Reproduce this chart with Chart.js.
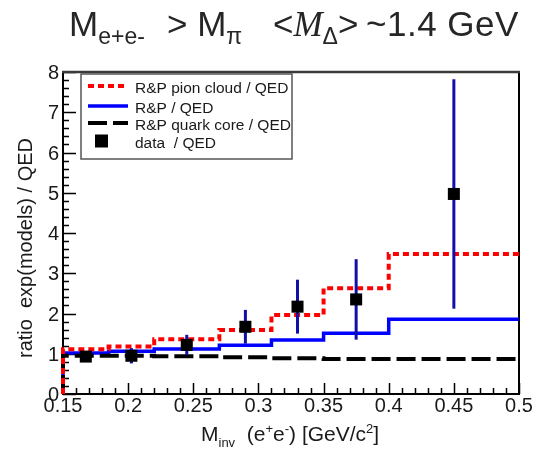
<!DOCTYPE html>
<html>
<head>
<meta charset="utf-8">
<script src="https://cdn.jsdelivr.net/npm/chart.js@4.4.1/dist/chart.umd.min.js"></script>
<style>
  body { margin: 0; background: #fff; }
  #wrap { position: relative; width: 536px; height: 449px; }
  .ttl {
    position: absolute; top: 6px;
    font-family: "Liberation Sans", Arial, sans-serif; font-size: 35px;
    color: #262626; white-space: pre; line-height: 35px;
  }
  .ttl sub { font-size: 23px; vertical-align: -8px; line-height: 0; }
  .ttl i { font-family: "Liberation Serif", "DejaVu Serif", serif; }
  canvas { position: absolute; left: 0; top: 0; }
</style>
</head>
<body>
<div id="wrap">
  <canvas id="ratioChart" width="536" height="449"></canvas>
  <div class="ttl" style="left:69px">M<sub>e+e-</sub></div>
  <div class="ttl" style="left:167px">&gt; M<sub>π</sub></div>
  <div class="ttl" style="left:273px">&lt;<i>M</i><sub>Δ</sub>&gt;</div>
  <div class="ttl" style="left:366px; letter-spacing: 0.5px">~1.4 GeV</div>
</div>
<script>
// histogram bin edges in M_inv [GeV/c^2]
var binEdges = [0.15, 0.185, 0.22, 0.27, 0.31, 0.35, 0.40, 0.50];

// model ratios per bin
var pionCloud = [1.11, 1.18, 1.36, 1.59, 1.96, 2.63, 3.48];
var rpTotal   = [1.02, 1.06, 1.12, 1.21, 1.34, 1.51, 1.86];
var quarkCore = [0.95, 0.95, 0.94, 0.91, 0.89, 0.87, 0.87];

// measured points
var dataMass  = [0.1675, 0.2025, 0.245, 0.29, 0.33, 0.375, 0.45];
var dataRatio = [0.93, 0.95, 1.22, 1.67, 2.17, 2.35, 4.97];
var dataError = [0.13, 0.19, 0.25, 0.42, 0.67, 1.0, 2.85];

var xTickLabels = ['0.15', '0.2', '0.25', '0.3', '0.35', '0.4', '0.45', '0.5'];
var yTickLabels = ['0', '1', '2', '3', '4', '5', '6', '7', '8'];

var FONT = '"Liberation Sans", Arial, sans-serif';

// turn per-bin values into points for a stepped line
function histPoints(vals) {
    var pts = [{ x: binEdges[0], y: 0 }];
    for (var i = 0; i < vals.length; i++) {
        pts.push({ x: binEdges[i], y: vals[i] });
    }
    pts.push({ x: binEdges[binEdges.length - 1], y: vals[vals.length - 1] });
    return pts;
}

var dataPoints = dataMass.map(function (m, i) { return { x: m, y: dataRatio[i] }; });

var legendItems = [
    { label: 'R&P pion cloud / QED', color: '#ff0000', dash: [6, 4], width: 4, y: 86 },
    { label: 'R&P / QED', color: '#0000ff', dash: [], width: 3.5, y: 106 },
    { label: 'R&P quark core / QED', color: '#000000', dash: [19, 6], width: 4, y: 123 },
    { label: 'data  / QED', marker: true, y: 141 }
];

// error bars go under the markers
var errorBars = {
    id: 'errorBars',
    beforeDatasetDraw: function (chart, args) {
        if (args.index !== 0) return;
        var ctx = chart.ctx, xs = chart.scales.x, ys = chart.scales.y;
        ctx.save();
        ctx.strokeStyle = '#1010a8';
        ctx.lineWidth = 3;
        for (var i = 0; i < dataMass.length; i++) {
            var px = xs.getPixelForValue(dataMass[i]);
            ctx.beginPath();
            ctx.moveTo(px, ys.getPixelForValue(dataRatio[i] - dataError[i]));
            ctx.lineTo(px, ys.getPixelForValue(dataRatio[i] + dataError[i]));
            ctx.stroke();
        }
        ctx.restore();
    }
};

// ROOT-like frame with inward ticks
var frameAxes = {
    id: 'frameAxes',
    beforeDatasetsDraw: function (chart) {
        var ctx = chart.ctx, a = chart.chartArea, xs = chart.scales.x, ys = chart.scales.y;
        ctx.save();
        ctx.strokeStyle = '#000';
        ctx.lineWidth = 1.5;
        ctx.beginPath();
        for (var i = 15; i <= 50; i++) {
            var px = Math.round(xs.getPixelForValue(i / 100)) + 0.5;
            var len = (i % 5 === 0) ? 11 : 6;
            ctx.moveTo(px, a.bottom);
            ctx.lineTo(px, a.bottom - len);
        }
        for (var j = 0; j <= 40; j++) {
            var py = Math.round(ys.getPixelForValue(j / 5)) + 0.5;
            var ln = (j % 5 === 0) ? 13 : 6;
            ctx.moveTo(a.left, py);
            ctx.lineTo(a.left + ln, py);
        }
        ctx.stroke();

        ctx.lineWidth = 2;
        ctx.strokeStyle = '#000';
        ctx.beginPath();
        ctx.moveTo(a.left, a.top);
        ctx.lineTo(a.left, a.bottom);
        ctx.lineTo(a.right, a.bottom);
        ctx.lineTo(a.right, a.top);
        ctx.stroke();
        ctx.strokeStyle = '#3a3a3a';
        ctx.lineWidth = 2.5;
        ctx.beginPath();
        ctx.moveTo(a.left - 1, a.top);
        ctx.lineTo(a.right + 1, a.top);
        ctx.stroke();

        // tick labels
        ctx.fillStyle = '#1a1a1a';
        ctx.font = '20px ' + FONT;
        ctx.textAlign = 'center';
        ctx.textBaseline = 'alphabetic';
        xTickLabels.forEach(function (t) {
            ctx.fillText(t, xs.getPixelForValue(parseFloat(t)), a.bottom + 18);
        });
        ctx.textAlign = 'right';
        yTickLabels.forEach(function (t) {
            ctx.fillText(t, a.left - 4, ys.getPixelForValue(parseFloat(t)) + 7);
        });

        // axis titles
        drawRuns(ctx, 201, 441, [
            ['M', 21, 0], ['inv', 13, 6], ['  (e', 21, 0], ['+', 13, -8], ['e', 21, 0],
            ['-', 13, -8], [') [GeV/c', 21, 0], ['2', 13, -8], [']', 21, 0]
        ]);
        ctx.save();
        ctx.translate(32, 248);
        ctx.rotate(-Math.PI / 2);
        ctx.textAlign = 'center';
        ctx.font = '20px ' + FONT;
        ctx.fillText('ratio  exp(models) / QED', 0, 0);
        ctx.restore();
        ctx.restore();
    },
    afterDraw: function (chart) {
        var ctx = chart.ctx;
        ctx.save();
        ctx.fillStyle = '#fff';
        ctx.fillRect(81, 74, 211, 85);
        ctx.strokeStyle = '#555';
        ctx.lineWidth = 1.5;
        ctx.strokeRect(81, 74, 211, 85);
        legendItems.forEach(function (it) {
            if (it.marker) {
                ctx.fillStyle = '#000';
                ctx.fillRect(95, it.y - 6.5, 13, 13);
            } else {
                ctx.strokeStyle = it.color;
                ctx.lineWidth = it.width;
                ctx.setLineDash(it.dash);
                ctx.beginPath();
                ctx.moveTo(88, it.y);
                ctx.lineTo(128, it.y);
                ctx.stroke();
                ctx.setLineDash([]);
            }
            ctx.fillStyle = '#1a1a1a';
            ctx.font = '15.5px ' + FONT;
            ctx.textBaseline = 'middle';
            ctx.fillText(it.label, 135, it.y + 3);
        });
        ctx.restore();
    }
};

function drawRuns(ctx, x, y, runs) {
    ctx.save();
    ctx.textAlign = 'left';
    ctx.textBaseline = 'alphabetic';
    runs.forEach(function (r) {
        ctx.font = r[1] + 'px ' + FONT;
        ctx.fillText(r[0], x, y + r[2]);
        x += ctx.measureText(r[0]).width;
    });
    ctx.restore();
}

// datasets listed first are painted last (on top)
new Chart(document.getElementById('ratioChart').getContext('2d'), {
    type: 'line',
    data: {
        datasets: [{
            label: 'data / QED',
            data: dataPoints,
            showLine: false,
            pointStyle: 'rect',
            pointRadius: 8.5,
            pointBackgroundColor: '#000',
            pointBorderWidth: 0
        }, {
            label: 'R&P pion cloud / QED',
            data: histPoints(pionCloud),
            stepped: true,
            clip: 3,
            borderColor: '#ff0000',
            borderWidth: 4,
            borderDash: [6, 4],
            pointRadius: 0
        }, {
            label: 'R&P quark core / QED',
            data: histPoints(quarkCore),
            stepped: true,
            clip: 3,
            borderColor: '#000',
            borderWidth: 4,
            borderDash: [19, 6],
            pointRadius: 0
        }, {
            label: 'R&P / QED',
            data: histPoints(rpTotal),
            stepped: true,
            clip: 3,
            borderColor: '#0000ff',
            borderWidth: 3.5,
            pointRadius: 0
        }]
    },
    options: {
        responsive: false,
        animation: false,
        devicePixelRatio: 1,
        events: [],
        layout: { padding: { left: 63, right: 17, top: 72, bottom: 55 } },
        scales: {
            x: { type: 'linear', min: 0.15, max: 0.5, display: false },
            y: { type: 'linear', min: 0, max: 8, display: false }
        },
        plugins: {
            legend: { display: false },
            tooltip: { enabled: false }
        }
    },
    plugins: [errorBars, frameAxes]
});
</script>
</body>
</html>
